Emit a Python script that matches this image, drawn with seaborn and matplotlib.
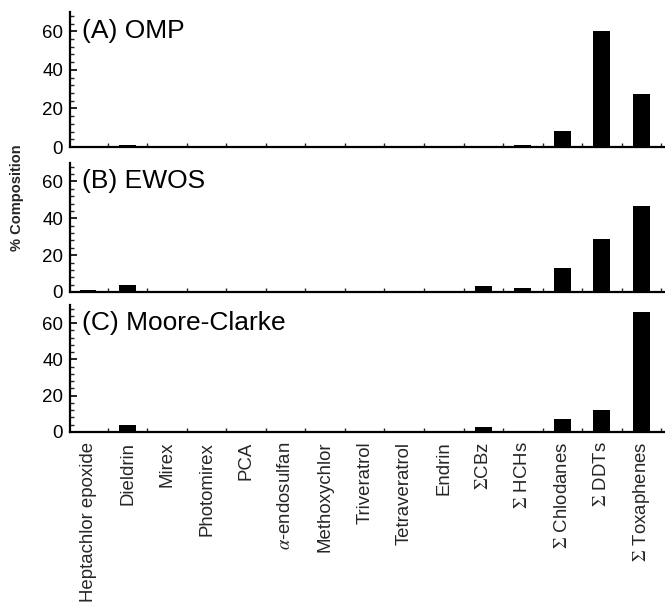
import matplotlib
matplotlib.use("Agg")
import matplotlib.pyplot as plt
from matplotlib.ticker import MultipleLocator, FixedLocator
import seaborn as sns

sns.set_theme(style="ticks")
plt.rcParams["font.family"] = ["Liberation Sans", "DejaVu Sans"]
plt.rcParams["mathtext.fontset"] = "stix"

categories = [
    "Heptachlor epoxide", "Dieldrin", "Mirex", "Photomirex", "PCA",
    r"$\alpha$-endosulfan", "Methoxychlor", "Triveratrol", "Tetraveratrol",
    "Endrin", r"$\Sigma$CBz", r"$\Sigma$ HCHs", r"$\Sigma$ Chlodanes",
    r"$\Sigma$ DDTs", r"$\Sigma$ Toxaphenes",
]

omp = [0.4, 1.2, 0.0, 0.1, 0.0, 0.1, 0.2, 0.0, 0.1, 0.3, 0.5, 1.0, 8.2, 60.0, 27.5]
ewos = [1.0, 3.8, 0.0, 0.1, 0.4, 0.0, 0.0, 0.1, 0.1, 0.6, 3.4, 2.0, 13.1, 28.6, 46.5]
moore_clarke = [0.8, 4.0, 0.0, 0.0, 0.0, 0.0, 0.0, 0.4, 0.0, 0.5, 2.9, 0.6, 7.2, 12.2, 66.0]

panels = [("(A) OMP", omp), ("(B) EWOS", ewos), ("(C) Moore-Clarke", moore_clarke)]

W, H = 665, 611
fig = plt.figure(figsize=(W / 100, H / 100), dpi=100)

# axes boxes in pixels: (top, bottom)
boxes = [(12, 147), (163, 292), (305, 432)]
left_px, right_px = 70, 665

for i, ((title, vals), (top, bot)) in enumerate(zip(panels, boxes)):
    ax = fig.add_axes([left_px / W, 1 - bot / H, (right_px - left_px) / W, (bot - top) / H])
    sns.barplot(x=list(range(len(categories))), y=vals, ax=ax, color="black",
                saturation=1, width=0.42, linewidth=0)
    ax.set_xlim(-0.46, 14.6)
    ax.set_ylim(0, 70)
    for s in ("top", "right"):
        ax.spines[s].set_visible(False)
    for s in ("left", "bottom"):
        ax.spines[s].set_linewidth(1.6)
        ax.spines[s].set_color("black")

    ax.yaxis.set_major_locator(FixedLocator([0, 20, 40, 60]))
    ax.yaxis.set_minor_locator(MultipleLocator(4))
    ax.tick_params(axis="y", which="major", direction="in", length=5, width=1.2,
                   labelsize=13.5, pad=5, colors="black")
    ax.tick_params(axis="y", which="minor", direction="in", length=3, width=1.0)

    ax.set_xticks(range(len(categories)))
    ax.xaxis.set_minor_locator(FixedLocator([k + 0.5 for k in range(len(categories))]))
    ax.tick_params(axis="x", which="major", length=0, pad=7)
    ax.tick_params(axis="x", which="minor", direction="in", length=3, width=1.0)
    if i == 2:
        ax.set_xticklabels(categories, rotation=90, fontsize=13.4, va="top", ha="center")
    else:
        ax.set_xticklabels([])
    ax.set_xlabel("")
    ax.set_ylabel("")

    ax.text(0.02, 60, title, transform=ax.get_yaxis_transform(), ha="left",
            va="center", fontsize=19, color="black")

fig.text(17 / W, 1 - 198 / H, "% Composition", rotation=90, ha="center", va="center",
         fontsize=10.5, fontweight="bold")

fig.savefig("out.png", dpi=100, facecolor="white")
